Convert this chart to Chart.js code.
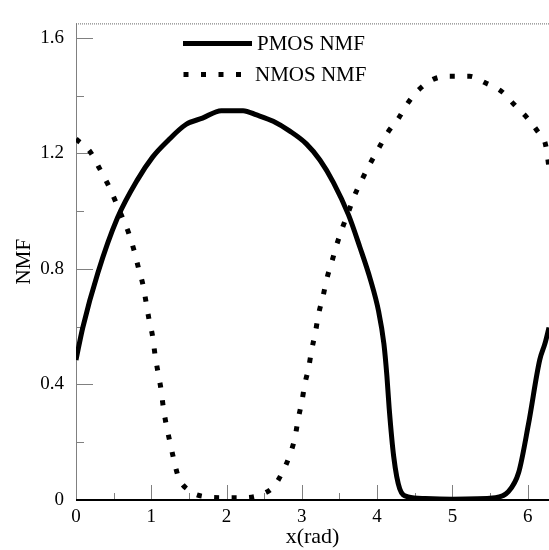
<!DOCTYPE html>
<html>
<head>
<meta charset="utf-8">
<script src="https://cdn.jsdelivr.net/npm/chart.js@4.4.1/dist/chart.umd.min.js"></script>
<style>
  body { margin: 0; background: #fff; }
  canvas { display: block; }
</style>
</head>
<body>
<canvas id="nmfChart" width="549" height="550"></canvas>
<script>
// values
const pmosX = [0, 0.09, 0.29, 0.55, 0.82, 1.02, 1.22, 1.46, 1.68, 1.93, 2.13, 2.22, 2.40, 2.62, 2.84, 3.06, 3.24, 3.42, 3.62, 3.77, 3.91, 4.02, 4.09, 4.13, 4.16, 4.22, 4.30, 4.41, 4.64, 5.00, 5.57, 5.74, 5.88, 6.01, 6.16, 6.23, 6.283];
const pmosY = [0.485, 0.597, 0.786, 0.976, 1.110, 1.188, 1.244, 1.300, 1.322, 1.348, 1.348, 1.348, 1.333, 1.311, 1.277, 1.233, 1.177, 1.099, 0.987, 0.876, 0.764, 0.653, 0.541, 0.429, 0.318, 0.151, 0.039, 0.011, 0.005, 0.003, 0.008, 0.028, 0.095, 0.262, 0.485, 0.542, 0.597];

const nmosX = [0, 0.19, 0.31, 0.42, 0.52, 0.61, 0.70, 0.77, 0.83, 0.89, 0.93, 0.97, 1.02, 1.05, 1.09, 1.13, 1.16, 1.20, 1.25, 1.30, 1.36, 1.50, 1.73, 1.95, 2.20, 2.44, 2.62, 2.75, 2.84, 2.91, 2.95, 3.00, 3.04, 3.09, 3.13, 3.18, 3.22, 3.28, 3.33, 3.40, 3.46, 3.54, 3.62, 3.70, 3.80, 3.91, 4.03, 4.14, 4.29, 4.41, 4.56, 4.76, 4.99, 5.23, 5.43, 5.66, 5.82, 5.99, 6.13, 6.24, 6.283];
const nmosY = [1.250, 1.205, 1.149, 1.095, 1.037, 0.982, 0.924, 0.865, 0.803, 0.744, 0.686, 0.625, 0.563, 0.502, 0.441, 0.382, 0.320, 0.259, 0.198, 0.139, 0.080, 0.033, 0.011, 0.008, 0.008, 0.017, 0.045, 0.100, 0.156, 0.218, 0.279, 0.340, 0.402, 0.457, 0.519, 0.580, 0.641, 0.703, 0.764, 0.826, 0.881, 0.943, 0.998, 1.054, 1.110, 1.166, 1.222, 1.272, 1.324, 1.375, 1.422, 1.458, 1.467, 1.467, 1.445, 1.413, 1.369, 1.324, 1.277, 1.227, 1.150];

const seriesLabels = ['PMOS NMF', 'NMOS NMF'];
const xTicks = [0, 1, 2, 3, 4, 5, 6];
const yTicks = [0, 0.4, 0.8, 1.2, 1.6];
const xMax = 2 * Math.PI;
const yMax = 1.65;

const serif = "'Liberation Serif', 'Times New Roman', serif";

function toPoints(xs, ys) {
    return xs.map((x, i) => ({ x: x, y: ys[i] }));
}

// inward tick marks + frame lines
const frame = {
    id: 'frame',
    beforeDatasetsDraw(chart) {
        const ctx = chart.ctx;
        const a = chart.chartArea;
        const sx = chart.scales.x, sy = chart.scales.y;
        ctx.save();
        ctx.strokeStyle = '#808080';
        ctx.lineWidth = 1;

        for (let i = 1; i * 0.2 < yMax; i++) {
            const py = Math.round(sy.getPixelForValue(i * 0.2)) + 0.5;
            const len = i % 2 === 0 ? 17 : 8;
            ctx.beginPath();
            ctx.moveTo(a.left, py);
            ctx.lineTo(a.left + len, py);
            ctx.stroke();
        }
        for (let i = 1; i * 0.5 < xMax; i++) {
            const px = Math.round(sx.getPixelForValue(i * 0.5)) + 0.5;
            const len = i % 2 === 0 ? 15 : 7;
            ctx.beginPath();
            ctx.moveTo(px, a.bottom);
            ctx.lineTo(px, a.bottom - len);
            ctx.stroke();
        }

        // left axis
        ctx.beginPath();
        ctx.moveTo(a.left + 0.5, a.top);
        ctx.lineTo(a.left + 0.5, a.bottom);
        ctx.stroke();

        // dotted top border
        ctx.setLineDash([1, 1]);
        ctx.strokeStyle = '#666';
        ctx.beginPath();
        ctx.moveTo(a.left, a.top + 0.5);
        ctx.lineTo(a.right, a.top + 0.5);
        ctx.stroke();
        ctx.setLineDash([]);

        // bottom axis
        ctx.strokeStyle = '#000';
        ctx.lineWidth = 2;
        ctx.beginPath();
        ctx.moveTo(a.left, a.bottom);
        ctx.lineTo(a.right, a.bottom);
        ctx.stroke();
        ctx.restore();
    }
};

// legend drawn inside the plot
const insideLegend = {
    id: 'insideLegend',
    afterDraw(chart) {
        const ctx = chart.ctx;
        const ds = chart.data.datasets;
        ctx.save();
        ctx.strokeStyle = '#000';
        ctx.lineWidth = 5;
        ctx.lineCap = 'butt';

        ctx.beginPath();
        ctx.moveTo(183, 43.5);
        ctx.lineTo(252, 43.5);
        ctx.stroke();

        ctx.setLineDash([5, 12.5]);
        ctx.beginPath();
        ctx.moveTo(183.5, 74.5);
        ctx.lineTo(242, 74.5);
        ctx.stroke();
        ctx.setLineDash([]);

        ctx.fillStyle = '#000';
        ctx.font = '21px ' + serif;
        ctx.textBaseline = 'middle';
        ctx.fillText(ds[0].label, 257, 44);
        ctx.fillText(ds[1].label, 255, 75);
        ctx.restore();
    }
};

const ctx = document.getElementById('nmfChart').getContext('2d');

new Chart(ctx, {
    type: 'line',
    data: {
        datasets: [{
            label: seriesLabels[0],
            data: toPoints(pmosX, pmosY),
            borderColor: '#000',
            borderWidth: 5,
            borderJoinStyle: 'round',
            pointRadius: 0,
            cubicInterpolationMode: 'monotone'
        }, {
            label: seriesLabels[1],
            data: toPoints(nmosX, nmosY),
            borderColor: '#000',
            borderWidth: 5,
            borderDash: [5, 12.5],
            borderCapStyle: 'butt',
            pointRadius: 0,
            cubicInterpolationMode: 'monotone'
        }]
    },
    options: {
        responsive: false,
        animation: false,
        layout: { padding: { top: 7, right: 0, left: 0, bottom: 0 } },
        plugins: {
            legend: { display: false },
            tooltip: { enabled: false }
        },
        scales: {
            x: {
                type: 'linear',
                min: 0,
                max: xMax,
                afterBuildTicks: s => { s.ticks = xTicks.map(v => ({ value: v })); },
                afterFit: s => { s.height = 50; },
                grid: { display: false, drawTicks: false },
                border: { display: false },
                ticks: {
                    color: '#000',
                    padding: 6,
                    maxRotation: 0,
                    font: { family: serif, size: 19 },
                    callback: v => String(v)
                },
                title: {
                    display: true,
                    text: 'x(rad)',
                    color: '#000',
                    padding: { top: 0, bottom: 0 },
                    font: { family: serif, size: 22 }
                }
            },
            y: {
                min: 0,
                max: yMax,
                afterBuildTicks: s => { s.ticks = yTicks.map(v => ({ value: v })); },
                afterFit: s => { s.width = 76; },
                grid: { display: false, drawTicks: false },
                border: { display: false },
                ticks: {
                    color: '#000',
                    padding: 12,
                    font: { family: serif, size: 19 },
                    callback: v => v === 0 ? '0' : v.toFixed(1)
                },
                title: {
                    display: true,
                    text: 'NMF',
                    color: '#000',
                    padding: { top: 12, bottom: 0 },
                    font: { family: serif, size: 21 }
                }
            }
        }
    },
    plugins: [frame, insideLegend]
});
</script>
</body>
</html>
